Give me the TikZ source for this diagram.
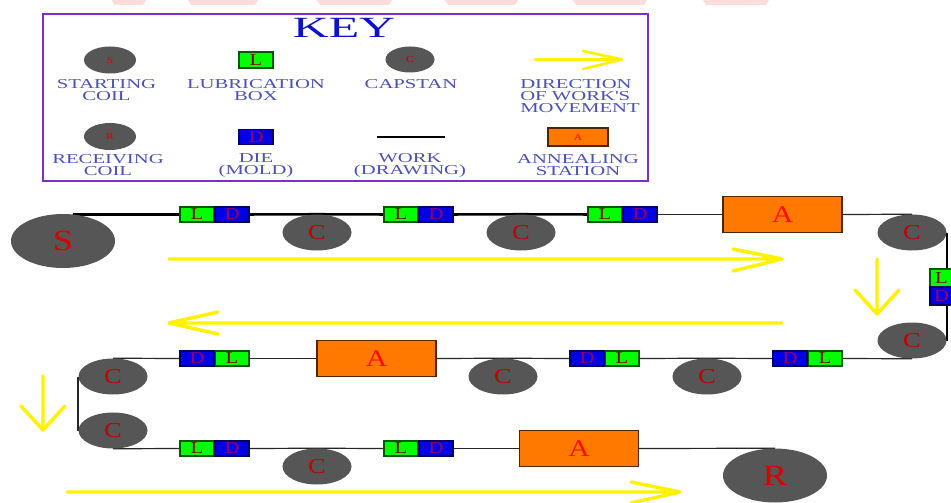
\documentclass[tikz,border=0pt]{standalone}
\usepackage{fontspec}
\setmainfont{Liberation Serif}
\newfontfamily\widefont[FakeStretch=1.24]{Liberation Serif}
\newfontfamily\labfont[FakeStretch=1.52]{Liberation Serif}
\newfontfamily\titlefont[FakeStretch=1.7]{Liberation Serif}
\usetikzlibrary{shapes.geometric,backgrounds}
\definecolor{keyblue}{HTML}{0C12C8}
\definecolor{labcol}{HTML}{4A50B4}
\definecolor{framecol}{HTML}{7A30C8}
\definecolor{coilgrey}{HTML}{565656}
\definecolor{wm}{HTML}{FBDDDD}
\newdimen\pxu \pxu=0.75pt
\tikzset{
 px/.style={x=0.75pt,y=-0.75pt},
 coil/.style={ellipse,fill=coilgrey,inner sep=0pt,minimum width=104\pxu,minimum height=54\pxu,text=red!85!black,font=\widefont\fontsize{22}{22}\selectfont},
 capst/.style={ellipse,fill=coilgrey,inner sep=0pt,minimum width=69\pxu,minimum height=36\pxu,text=red!75!black,font=\widefont\fontsize{16}{16}\selectfont},
 lbox/.style={draw=green!35!black,line width=0.8pt,fill=green,text=red!50!black,inner sep=0pt,minimum width=34\pxu,minimum height=15\pxu,font=\widefont\fontsize{12.5}{12.5}\selectfont},
 dbox/.style={draw=blue!40!black,line width=0.8pt,fill=blue!90!black,text=red!58!blue,inner sep=0pt,minimum width=34\pxu,minimum height=15\pxu,font=\widefont\fontsize{12.5}{12.5}\selectfont},
 abox/.style={draw=black!70!orange,line width=0.9pt,fill=orange!95!red,text=red!90!orange,inner sep=0pt,minimum width=119\pxu,minimum height=36\pxu,font=\widefont\fontsize{18}{18}\selectfont},
 wire/.style={draw=black!85,line width=0.9pt},
 heavy/.style={draw=black,line width=1.9pt},
 flow/.style={draw=yellow,line width=2.6pt,line cap=round,line join=round},
 keylab/.style={text=labcol,align=center,font=\labfont\fontsize{10.2}{9}\selectfont,inner sep=0pt},
 tiny/.style={font=\widefont\fontsize{7}{7}\selectfont},
}
\begin{document}
\begin{tikzpicture}[px]
\useasboundingbox (0,0) rectangle (951,503);
% faint pink shapes along the top edge
\fill[wm] (112,0) -- (146,0) -- (143,5) -- (114,5) -- cycle;
\fill[wm] (188,0) -- (258,0) -- (255,5) -- (191,5) -- cycle;
\fill[wm] (317,0) -- (392,0) -- (389,5) -- (320,5) -- cycle;
\fill[wm] (445,0) -- (518,0) -- (515,5) -- (448,5) -- cycle;
\fill[wm] (573,0) -- (647,0) -- (644,5) -- (576,5) -- cycle;
\fill[wm] (703,0) -- (769,0) -- (766,5) -- (706,5) -- cycle;
% key
\node[draw=framecol,line width=1.6pt,minimum width=605\pxu,minimum height=167\pxu,inner sep=0pt] (keybox) at (345.5,97.5) {};
\node[text=keyblue,inner sep=0pt,font=\titlefont\fontsize{22}{22}\selectfont] (keytitle) at (344,28) {KEY};
\node[coil,tiny,minimum width=52\pxu,minimum height=27\pxu] (ks) at (110,60) {S};
\node[lbox,minimum height=16\pxu] (kl) at (256,60) {L};
\node[capst,tiny,minimum width=49\pxu,minimum height=26\pxu] (kc) at (410,59.5) {C};
\coordinate (ka0) at (535,59.5); \coordinate (ka1) at (622,59.5);
\draw[flow,line width=2pt] (ka0) -- (ka1) (583,51) -- (ka1) -- (583,69);
\node[coil,tiny,minimum width=52\pxu,minimum height=27\pxu] (kr) at (110,136.5) {R};
\node[dbox,minimum height=15\pxu] (kd) at (256,137) {D};
\coordinate (kw0) at (377,137); \coordinate (kw1) at (445,137);
\draw[wire,line width=1.3pt,black] (kw0) -- (kw1);
\node[abox,tiny,minimum width=60\pxu,minimum height=18\pxu] (ka) at (578,137) {A};
\node[keylab] (t1) at (106.5,90) {STARTING\\COIL};
\node[keylab] (t2) at (256,90) {LUBRICATION\\BOX};
\node[keylab] (t3) at (411,84.5) {CAPSTAN};
\node[keylab,align=left] (t4) at (580,96.5) {DIRECTION\\OF WORK'S\\MOVEMENT};
\node[keylab] (t5) at (108,165) {RECEIVING\\COIL};
\node[keylab] (t6) at (256,165) {DIE\\(MOLD)};
\node[keylab] (t7) at (410,165) {WORK\\(DRAWING)};
\node[keylab] (t8) at (578,165) {ANNEALING\\STATION};
% top run
\node[coil] (s) at (63,241) {S};
\node[lbox] (l1) at (197,214.5) {L};
\node[dbox] (d1) at (232,214.5) {D};
\node[capst] (c1) at (317,232.5) {C};
\node[lbox] (l2) at (401,214.5) {L};
\node[dbox] (d2) at (436,214.5) {D};
\node[capst] (c2) at (521,232.5) {C};
\node[lbox] (l3) at (605,214.5) {L};
\node[dbox] (d3) at (640,214.5) {D};
\node[abox] (a1) at (782.5,214.5) {A};
\node[capst] (c3) at (912,232.5) {C};
% right side
\node[lbox,minimum width=23\pxu,minimum height=18\pxu] (l4) at (941.5,278) {L};
\node[dbox,minimum width=23\pxu,minimum height=18\pxu] (d4) at (941.5,296) {D};
\node[capst] (c4) at (912,340.5) {C};
% middle run
\node[lbox] (l5) at (825,358.5) {L};
\node[dbox] (d5) at (790,358.5) {D};
\node[capst] (c5) at (707,376.5) {C};
\node[lbox] (l6) at (622,358.5) {L};
\node[dbox] (d6) at (587,358.5) {D};
\node[capst] (c6) at (503,376.5) {C};
\node[abox] (a2) at (376.5,358.5) {A};
\node[lbox] (l7) at (232,358.5) {L};
\node[dbox] (d7) at (197,358.5) {D};
\node[capst] (c7) at (113,376.5) {C};
% lower run
\node[capst] (c8) at (113,430.5) {C};
\node[lbox] (l8) at (197,448.5) {L};
\node[dbox] (d8) at (232,448.5) {D};
\node[capst] (c9) at (317,466.5) {C};
\node[lbox] (l9) at (401,448.5) {L};
\node[dbox] (d9) at (436,448.5) {D};
\node[abox] (a3) at (579,448.5) {A};
\node[coil] (r) at (775,475.5) {R};
% work
\begin{pgfonlayer}{background}
\draw[heavy] (s.70 |- l1.west) -- (l1.west);
\draw[heavy] (d1.east) -- (c1.north);
\draw[heavy] (c1.north) -- (l2.west);
\draw[heavy] (d2.east) -- (c2.north);
\draw[heavy] (c2.north) -- (l3.west);
\draw[wire] (d3.east) -- (a1.west);
\draw[wire] (a1.east) -- (c3.north);
\draw[heavy] (c3.east) -- (c3.east |- l4.north);
\draw[heavy] (c4.east |- d4.south) -- (c4.east);
\draw[wire] (c4.south) -- (l5.east);
\draw[wire] (d5.west) -- (c5.north);
\draw[wire] (c5.north) -- (l6.east);
\draw[wire] (d6.west) -- (c6.north);
\draw[wire] (c6.north) -- (a2.east);
\draw[wire] (a2.west) -- (l7.east);
\draw[wire] (d7.west) -- (c7.north);
\draw[wire,line width=1.4pt] (c7.west) -- (c8.west);
\draw[wire] (c8.south) -- (l8.west);
\draw[wire] (d8.east) -- (c9.north);
\draw[wire] (c9.north) -- (l9.west);
\draw[wire] (d9.east) -- (a3.west);
\draw[wire] (a3.east) -- (r.north);
\end{pgfonlayer}
% direction arrows
\coordinate (f1a) at (169,259); \coordinate (f1b) at (782,259);
\draw[flow] (f1a) -- (f1b) (733,249) -- (f1b) -- (733,271);
\coordinate (f2a) at (782,323); \coordinate (f2b) at (169,323);
\draw[flow] (f2a) -- (f2b) (218,312) -- (f2b) -- (218,334);
\coordinate (f3a) at (877,259); \coordinate (f3b) at (877,314);
\draw[flow] (f3a) -- (f3b) (855,290) -- (f3b) -- (899,290);
\coordinate (f4a) at (43,376); \coordinate (f4b) at (43,430);
\draw[flow] (f4a) -- (f4b) (21,406) -- (f4b) -- (65,406);
\coordinate (f5a) at (67,492); \coordinate (f5b) at (680,492);
\draw[flow] (f5a) -- (f5b) (631,482) -- (f5b) -- (631,503);
\end{tikzpicture}
\end{document}
